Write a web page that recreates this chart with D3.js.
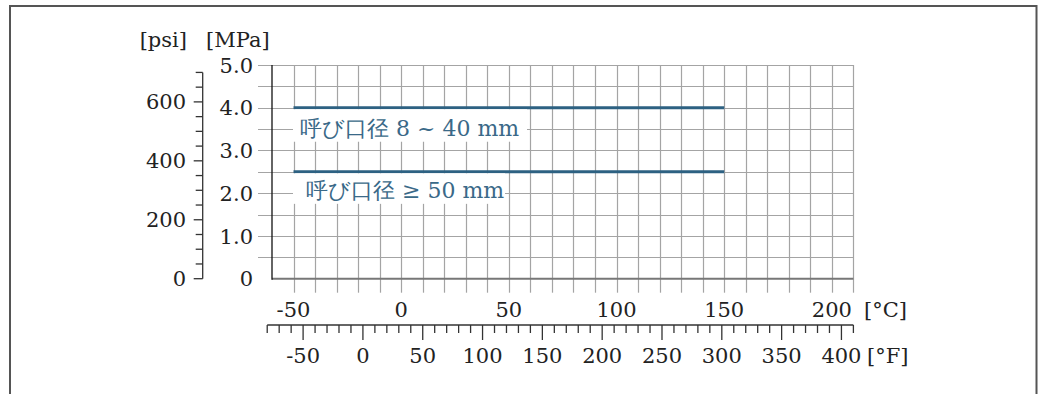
<!DOCTYPE html>
<html><head><meta charset="utf-8">
<script src="https://cdn.jsdelivr.net/npm/d3@7"></script>
<style>
html,body{margin:0;padding:0;background:#fff;}
svg{display:block;}
text{font-family:"DejaVu Serif",serif;fill:#222;}
</style></head>
<body>
<script>
// ---- data ----
const seriesNames = ["呼び口径 8 ~ 40 mm", "呼び口径 ≥ 50 mm"];
const seriesPressureMPa = [4.0, 2.5];
const seriesTempStart = [-50, -50];
const seriesTempEnd = [150, 150];
const mpaTicks = [0, 1, 2, 3, 4, 5];
const mpaTickLabels = ["0", "1.0", "2.0", "3.0", "4.0", "5.0"];
const psiLabelTicks = [0, 200, 400, 600];
const celsiusLabelTicks = [-50, 0, 50, 100, 150, 200];
const fahrenheitLabelTicks = [-50, 0, 50, 100, 150, 200, 250, 300, 350, 400];
const tempDomain = [-60, 210];
const pressureDomain = [0, 5];
const psiMax = 700;

// ---- layout ----
const W = 1038, H = 394;
const svg = d3.select("body").append("svg").attr("width", W).attr("height", H);
const L = 272, R = 853.4, T = 65, B = 278.7;
const x = d3.scaleLinear().domain(tempDomain).range([L, R]);
const y = d3.scaleLinear().domain(pressureDomain).range([B, T]);
const PSI_PER_MPA = 145.038;
const yPsi = d3.scaleLinear().domain([0, pressureDomain[1] * PSI_PER_MPA]).range([B, T]);
const c2f = c => c * 9 / 5 + 32;
const xF = d3.scaleLinear().domain(tempDomain.map(c2f)).range([L, R]);
const FS = 21;

// frame
svg.append("path").attr("d", `M10,${H} V6 H1036.5 V${H}`)
  .attr("fill", "none").attr("stroke", "#555").attr("stroke-width", 2);

// grid
const g = svg.append("g");
const hGrid = d3.range(0.5, 5.01, 0.5);
g.selectAll(".hg").data(hGrid).join("line")
  .attr("x1", L - 14).attr("x2", R)
  .attr("y1", d => Math.round(y(d)) + 0.5).attr("y2", d => Math.round(y(d)) + 0.5)
  .attr("stroke", "#a4a4a4").attr("stroke-width", 1.2);
const vGrid = d3.range(-50, 211, 10);
g.selectAll(".vg").data(vGrid).join("line")
  .attr("x1", d => Math.round(x(d)) + 0.5).attr("x2", d => Math.round(x(d)) + 0.5)
  .attr("y1", T).attr("y2", B + 14)
  .attr("stroke", "#a4a4a4").attr("stroke-width", 1.2);

// axes lines
svg.append("line").attr("x1", L).attr("x2", R).attr("y1", B).attr("y2", B)
  .attr("stroke", "#777").attr("stroke-width", 2);
svg.append("line").attr("x1", L).attr("x2", L).attr("y1", T).attr("y2", B + 1)
  .attr("stroke", "#111").attr("stroke-width", 1.3);

// MPa labels
svg.selectAll(".mpa").data(mpaTicks).join("text")
  .attr("x", 253).attr("y", d => y(d)).attr("dy", "0.36em")
  .attr("text-anchor", "end").attr("font-size", FS)
  .text((d, i) => mpaTickLabels[i]);

// psi axis
const psiX = 202.7;
const psiG = svg.append("g").attr("transform", `translate(${psiX},0)`);
psiG.append("line").attr("x1", 0).attr("x2", 0).attr("y1", yPsi(0)).attr("y2", yPsi(psiMax))
  .attr("stroke", "#333").attr("stroke-width", 1.3);
psiG.selectAll(".pt").data(d3.range(0, psiMax + 1, 50)).join("line")
  .attr("x1", d => psiLabelTicks.includes(d) ? -9 : -7).attr("x2", 0)
  .attr("y1", d => yPsi(d)).attr("y2", d => yPsi(d))
  .attr("stroke", "#333").attr("stroke-width", 1.3);
svg.selectAll(".psi").data(psiLabelTicks).join("text")
  .attr("x", 186).attr("y", d => yPsi(d)).attr("dy", "0.36em")
  .attr("text-anchor", "end").attr("font-size", FS).text(d => d);

// unit labels
svg.append("text").attr("x", 187).attr("y", 47).attr("text-anchor", "end")
  .attr("font-size", FS).text("[psi]");
svg.append("text").attr("x", 206).attr("y", 47).attr("font-size", FS).text("[MPa]");

// Celsius labels
svg.selectAll(".cl").data(celsiusLabelTicks).join("text")
  .attr("x", d => x(d)).attr("y", 317).attr("text-anchor", "middle")
  .attr("font-size", FS).text(d => d);
svg.append("text").attr("x", 864).attr("y", 317).attr("font-size", FS).text("[°C]");

// Fahrenheit axis
const FY = 325;
svg.append("line").attr("x1", xF(-80)).attr("x2", R).attr("y1", FY).attr("y2", FY)
  .attr("stroke", "#333").attr("stroke-width", 1.3);
svg.selectAll(".ft").data(d3.range(-80, 411, 10)).join("line")
  .attr("x1", d => xF(d)).attr("x2", d => xF(d))
  .attr("y1", FY).attr("y2", d => FY + (d % 50 === 0 ? 15 : 8))
  .attr("stroke", "#333").attr("stroke-width", 1.3);
svg.selectAll(".fl").data(fahrenheitLabelTicks).join("text")
  .attr("x", d => xF(d)).attr("y", 363).attr("text-anchor", "middle")
  .attr("font-size", FS).text(d => d);
svg.append("text").attr("x", 867).attr("y", 363).attr("font-size", FS).text("[°F]");

// series lines
const lineColor = "#2d6182";
svg.selectAll(".sl").data(seriesPressureMPa).join("line")
  .attr("x1", (d, i) => x(seriesTempStart[i])).attr("x2", (d, i) => x(seriesTempEnd[i]))
  .attr("y1", d => y(d)).attr("y2", d => y(d))
  .attr("stroke", lineColor).attr("stroke-width", 3);

// series labels with white background
const labelBoxes = [
  {x0: 293, x1: 527, tx: 300, dy0: 1.5, dy1: 34, base: 28},
  {x0: 293, x1: 505, tx: 306, dy0: 1.5, dy1: 32, base: 26}
];
seriesNames.forEach((name, i) => {
  const yy = y(seriesPressureMPa[i]);
  const b = labelBoxes[i];
  svg.append("rect").attr("x", b.x0).attr("y", yy + b.dy0)
    .attr("width", b.x1 - b.x0).attr("height", b.dy1 - b.dy0).attr("fill", "#fff");
  svg.append("text").attr("x", b.tx).attr("y", yy + b.base)
    .attr("font-size", 22)
    .attr("font-family", "'DejaVu Serif','Noto Sans CJK JP',serif")
    .style("fill", "#3a6988").text(name);
});
</script>
</body></html>
